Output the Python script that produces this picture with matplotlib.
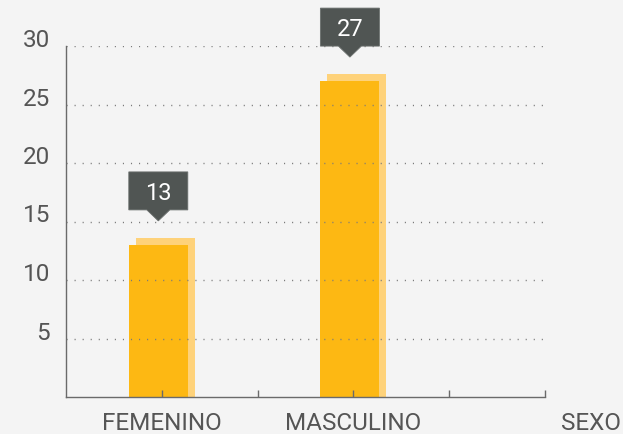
import matplotlib
matplotlib.use("Agg")
import matplotlib.pyplot as plt
import matplotlib.transforms as mtransforms
from matplotlib.patches import Polygon

# data
categories = ["FEMENINO", "MASCULINO"]
values = [13, 27]
y_ticks = [5, 10, 15, 20, 25, 30]
axis_title = "SEXO"

BG = "#f4f4f4"
BAR = "#fdb813"
BAR_SHADOW = "#fed27a"
BOX = "#505553"
TXT = "#555555"
AXIS = "#6a6a6a"
FS = 17.5

plt.rcParams["font.family"] = ["Roboto", "DejaVu Sans"]

fig = plt.figure(figsize=(6.23, 4.34), dpi=100)
fig.patch.set_facecolor(BG)
ax = fig.add_axes([66 / 623, 1 - 397 / 434, 479 / 623, 351 / 434])
ax.set_facecolor(BG)
ax.set_xlim(-0.5, 2)
ax.set_ylim(0, 30)


def px(dx, dy):
    return mtransforms.ScaledTranslation(dx / 100, dy / 100, fig.dpi_scale_trans)


x = list(range(len(categories)))
width = 0.307
# lighter offset "shadow" bar behind the main bar
ax.bar(x, [v + 2 for v in values], bottom=-2, width=width, color=BAR_SHADOW,
       transform=ax.transData + px(3.5, 7), zorder=0.8)
ax.bar(x, values, width=width, color=BAR,
       transform=ax.transData + px(-3.5, 0), zorder=0.9)

# callout boxes above each bar
bw, bh, tri_w, tri_h = 59, 38, 23, 11
for xi, v in zip(x, values):
    ex, ey = ax.transData.transform((xi, v))
    ex -= 3.5
    ey += 24
    verts = [(ex, ey), (ex - tri_w / 2, ey + tri_h), (ex - bw / 2, ey + tri_h),
             (ex - bw / 2, ey + tri_h + bh), (ex + bw / 2, ey + tri_h + bh),
             (ex + bw / 2, ey + tri_h), (ex + tri_w / 2, ey + tri_h)]
    poly = Polygon(verts, closed=True, facecolor=BOX, edgecolor="#6b706e", lw=0.6,
                   transform=mtransforms.IdentityTransform(), clip_on=False, zorder=5)
    fig.add_artist(poly)
    fig.text(ex / 623, (ey + tri_h + bh / 2) / 434, str(v), color="white", fontsize=17,
             ha="center", va="center_baseline", zorder=6)

# axes styling
for s in ["top", "right"]:
    ax.spines[s].set_visible(False)
for s in ["left", "bottom"]:
    ax.spines[s].set_color(AXIS)
    ax.spines[s].set_linewidth(1)

ax.set_xticks([0, 0.5, 1, 1.5, 2])
ax.set_xticklabels([categories[0], "", categories[1], "", ""])
ax.tick_params(axis="x", direction="in", length=5, width=1, color=AXIS,
               labelsize=FS, labelcolor=TXT, pad=11)
ax.set_yticks(y_ticks)
ax.set_yticklabels([str(t) for t in y_ticks])
ax.tick_params(axis="y", length=0, labelsize=FS, labelcolor=TXT, pad=11.5)
for lab in ax.get_yticklabels():
    lab.set_transform(lab.get_transform() + px(0, 8))

ax.yaxis.grid(True, color="#7a7a7a", linewidth=1.0, linestyle=(0, (0.8, 5.0)))

ax.text(1.096, 0, axis_title, transform=ax.transAxes + px(0, -15.5), ha="center",
        va="top", fontsize=FS, color=TXT)

fig.savefig("out.png", dpi=100, facecolor=fig.get_facecolor())
